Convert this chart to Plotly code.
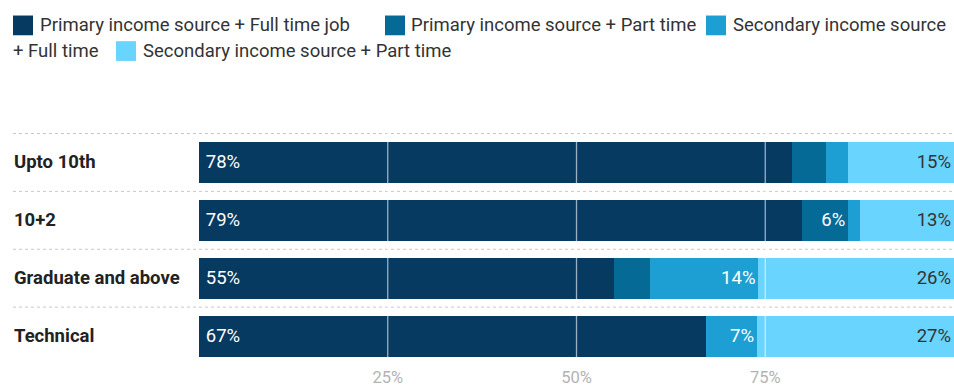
import plotly.graph_objects as go

categories = ["Upto 10th", "10+2", "Graduate and above", "Technical"]
series_names = [
    "Primary income source + Full time job",
    "Primary income source + Part time",
    "Secondary income source + Full time",
    "Secondary income source + Part time",
]
colors = ["#063a61", "#066a96", "#1d9fd3", "#69d4fd"]
text_colors = ["#ffffff", "#ffffff", "#ffffff", "#333333"]

primary_full = [78.6, 79.9, 55.0, 67.1]
primary_part = [4.5, 6.1, 4.8, 0.0]
secondary_full = [2.9, 1.6, 14.3, 6.8]
secondary_part = [14.0, 12.4, 25.9, 26.1]
values = [primary_full, primary_part, secondary_full, secondary_part]

primary_full_lbl = ["78%", "79%", "55%", "67%"]
primary_part_lbl = ["", "6%", "", ""]
secondary_full_lbl = ["", "", "14%", "7%"]
secondary_part_lbl = ["15%", "13%", "26%", "27%"]
labels = [primary_full_lbl, primary_part_lbl, secondary_full_lbl, secondary_part_lbl]

tick_vals = [25, 50, 75]
tick_text = ["25%", "50%", "75%"]

W, H = 954, 387
L, R, T, B = 199, 0, 133, 19
PW, PH = W - L - R, H - T - B


def px2x(px):
    return (px - L) / PW


def py2y(py):
    return 1 - (py - T) / PH


FONT = "Roboto"
fig = go.Figure()
anchors = ["start", "end", "end", "end"]
for k, (name, vals, lbl, col, tc, anc) in enumerate(zip(series_names, values, labels, colors, text_colors, anchors)):
    shown = [("\u2009" + t if (k == 0 and t) else t) for t in lbl]
    fig.add_trace(go.Bar(
        y=categories, x=vals, name=name, orientation="h",
        marker=dict(color=col, line=dict(width=0)),
        text=shown, textposition="inside", insidetextanchor=anc,
        textfont=dict(family=FONT, size=18.5, color=tc),
        textangle=0, hoverinfo="skip", showlegend=False,
    ))

shapes = []
# row separators (dotted)
for i in range(len(categories)):
    shapes.append(dict(type="line", xref="paper", yref="y",
                       x0=px2x(13), x1=1, y0=i - 0.5, y1=i - 0.5,
                       line=dict(color="#c8c8c8", width=1, dash="dot"), layer="below"))
# gridlines above bars
for v in tick_vals:
    shapes.append(dict(type="line", xref="x", yref="paper", x0=v, x1=v, y0=0, y1=1,
                       line=dict(color="rgba(255,255,255,0.6)", width=1.3), layer="above"))

annotations = []
for c in categories:
    annotations.append(dict(xref="paper", yref="y", x=px2x(12), y=c, text="<b>" + c + "</b>",
                            xanchor="left", yanchor="middle", showarrow=False,
                            font=dict(family=FONT, size=18.5, color="#222222")))

# manual wrapped legend (Datawrapper style)
legend_items = [
    # (color index, square left px, row center px, text pieces [(text, left px, center px)])
    (0, 13, 24, [(series_names[0], 38, 24)]),
    (1, 385, 24, [(series_names[1], 409, 24)]),
    (2, 706, 24, [("Secondary income source", 731, 24), ("+ Full time", 11, 50)]),
    (3, 116, 50, [(series_names[3], 141, 50)]),
]
for ci, sx, cy, pieces in legend_items:
    shapes.append(dict(type="rect", xref="paper", yref="paper",
                       x0=px2x(sx), x1=px2x(sx + 20), y0=py2y(cy - 10), y1=py2y(cy + 10),
                       fillcolor=colors[ci], line=dict(width=0)))
    for txt, tx, ty in pieces:
        annotations.append(dict(xref="paper", yref="paper", x=px2x(tx), y=py2y(ty), text=txt,
                                xanchor="left", yanchor="middle", showarrow=False,
                                font=dict(family=FONT, size=18.5, color="#333333")))

fig.update_layout(
    width=W, height=H, margin=dict(l=L, r=R, t=T, b=B, pad=0),
    barmode="stack", bargap=0.29,
    paper_bgcolor="white", plot_bgcolor="white",
    xaxis=dict(range=[0, 100], tickvals=tick_vals, ticktext=tick_text, showgrid=False,
               zeroline=False, showline=False, ticks="", fixedrange=True,
               tickfont=dict(family=FONT, size=16.5, color="#b3b3b3")),
    yaxis=dict(categoryorder="array", categoryarray=categories, autorange="reversed",
               showticklabels=False, showgrid=False, zeroline=False, showline=False, ticks=""),
    shapes=shapes, annotations=annotations, showlegend=False,
)
fig.write_html("out.html")
